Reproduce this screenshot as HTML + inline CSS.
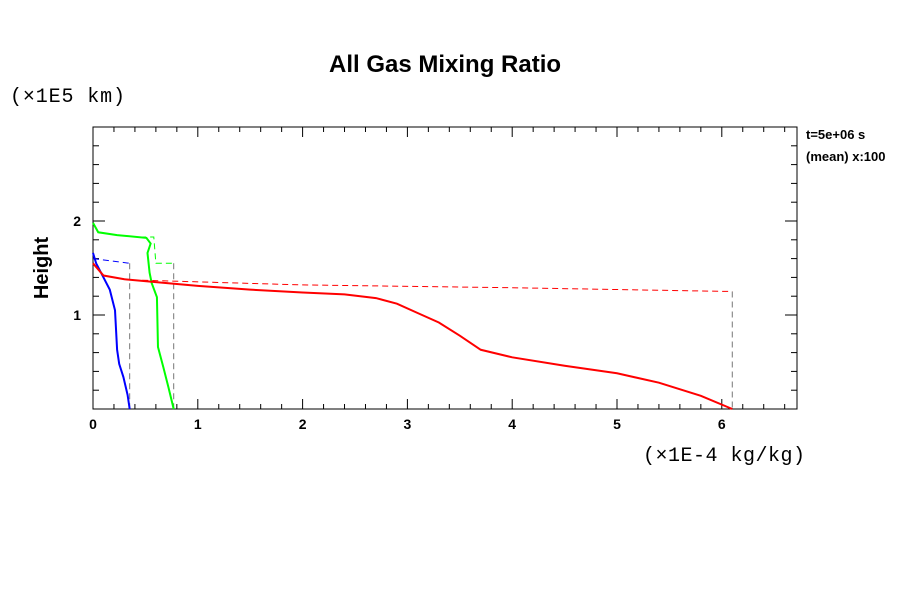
<!DOCTYPE html>
<html><head><meta charset="utf-8"><style>
body{margin:0;background:#fff;}
.s{font-family:"Liberation Sans",sans-serif;}
.m{font-family:"Liberation Mono",monospace;}
</style></head><body>
<svg width="900" height="600" xmlns="http://www.w3.org/2000/svg">
<rect width="900" height="600" fill="#fff"/>
<text class="s" x="445" y="72" text-anchor="middle" font-size="24" font-weight="bold">All Gas Mixing Ratio</text>
<text class="m" x="10" y="102" font-size="20" textLength="115">(×1E5 km)</text>
<text class="m" x="643" y="461" font-size="20" textLength="162">(×1E-4 kg/kg)</text>
<text class="s" x="48" y="268" font-size="20" font-weight="bold" text-anchor="middle" transform="rotate(-90 48 268)">Height</text>
<text class="s" x="806" y="139" font-size="13" font-weight="bold">t=5e+06 s</text>
<text class="s" x="806" y="161" font-size="13" font-weight="bold">(mean) x:100</text>
<g id="axes"></g>
<g id="series"></g>
</svg>
<script>
const xTicks=[0,1,2,3,4,5,6];
const yTicks=[1,2];
const redSolidX=[0,0.1,0.3,0.6,1,1.5,2,2.4,2.7,2.9,3.1,3.3,3.5,3.7,4,4.5,5,5.4,5.8,6.1];
const redSolidY=[1.55,1.42,1.38,1.35,1.31,1.27,1.24,1.22,1.18,1.12,1.02,0.92,0.78,0.63,0.55,0.46,0.38,0.28,0.14,0];
const blueSolidX=[0,0.03,0.1,0.16,0.21,0.23,0.25,0.29,0.33,0.35];
const blueSolidY=[1.66,1.55,1.4,1.27,1.05,0.63,0.48,0.34,0.15,0];
const greenSolidX=[0,0.05,0.23,0.51,0.55,0.52,0.54,0.56,0.61,0.62,0.67,0.72,0.77];
const greenSolidY=[1.98,1.88,1.85,1.82,1.76,1.66,1.45,1.34,1.19,0.66,0.45,0.23,0];
const redDashX=[0.47,2,4,6.1];
const redDashY=[1.37,1.32,1.29,1.25];
const blueDashX=[0,0.35];
const blueDashY=[1.6,1.55];
const greenDashX=[0.45,0.58,0.6,0.77];
const greenDashY=[1.83,1.83,1.55,1.55];
const X0=93,X1=797,Y0=409,Y1=127,XMAX=(797-93)/104.8,YMAX=3;
const sx=v=>X0+v/XMAX*(X1-X0), sy=v=>Y0-v/YMAX*(Y0-Y1);
const NS="http://www.w3.org/2000/svg";
function mk(tag,attrs,parent){const e=document.createElementNS(NS,tag);for(const k in attrs)e.setAttribute(k,attrs[k]);parent.appendChild(e);return e;}
const ax=document.getElementById('axes');
const frame=mk('rect',{x:X0,y:Y1,width:X1-X0,height:Y0-Y1,fill:'none',stroke:'#000','stroke-width':1},ax);


for(let v=0;v<=XMAX+1e-9;v+=0.2){const big=Math.abs(v-Math.round(v))<1e-6;const L=big?10:5;
 mk('line',{x1:sx(v),x2:sx(v),y1:Y0,y2:Y0-L,stroke:'#000'},ax);
 mk('line',{x1:sx(v),x2:sx(v),y1:Y1,y2:Y1+L,stroke:'#000'},ax);}
for(let v=0.2;v<YMAX;v+=0.2){const big=Math.abs(v-Math.round(v))<1e-6;const L=big?12:6;
 mk('line',{x1:X0,x2:X0+L,y1:sy(v),y2:sy(v),stroke:'#000'},ax);
 mk('line',{x1:X1,x2:X1-L,y1:sy(v),y2:sy(v),stroke:'#000'},ax);}
xTicks.forEach(v=>{const t=mk('text',{class:'s',x:sx(v),y:429,'text-anchor':'middle','font-size':14,'font-weight':'bold'},ax);t.textContent=v;
 
 });
yTicks.forEach(v=>{const t=mk('text',{class:'s',x:81,y:sy(v)+5,'text-anchor':'end','font-size':14,'font-weight':'bold'},ax);t.textContent=v;
 
 });
const sg=document.getElementById('series');
function line(xs,ys,color,w,dash,name){const p=mk('polyline',{points:xs.map((x,i)=>sx(x)+','+sy(ys[i])).join(' '),fill:'none',stroke:color,'stroke-width':w},sg);
 if(dash)p.setAttribute('stroke-dasharray',dash);
 
 return p;}
function vdrop(x,y,name){const p=mk('line',{x1:sx(x),x2:sx(x),y1:sy(y),y2:Y0,stroke:'#777','stroke-dasharray':'6,4'},sg);
 
 }
line(redDashX,redDashY,'#f00',1,'6,4','red-dashed-line');
vdrop(redDashX[redDashX.length-1],redDashY[redDashY.length-1],'red-dashed-drop');
line(blueDashX,blueDashY,'#00f',1,'6,4','blue-dashed-line');
vdrop(blueDashX[1],blueDashY[1],'blue-dashed-drop');
line(greenDashX,greenDashY,'#0f0',1,'6,4','green-dashed-line');
vdrop(greenDashX[greenDashX.length-1],greenDashY[greenDashY.length-1],'green-dashed-drop');
line(greenSolidX,greenSolidY,'#0f0',2,null,'green-solid-line');
line(blueSolidX,blueSolidY,'#00f',2,null,'blue-solid-line');
line(redSolidX,redSolidY,'#f00',2,null,'red-solid-line');
</script>
</body></html>
